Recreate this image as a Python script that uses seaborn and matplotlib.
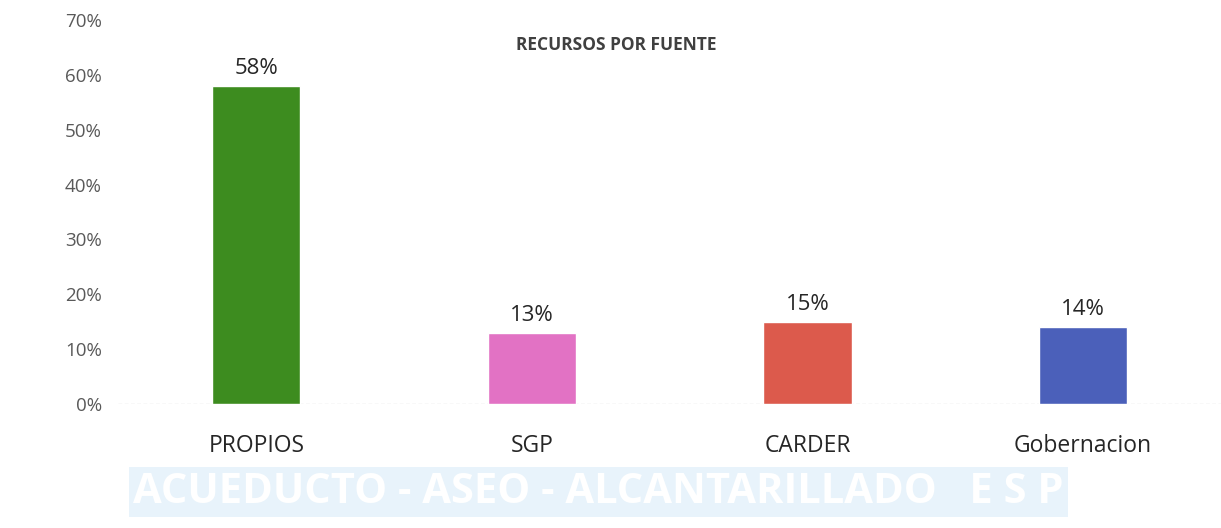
import matplotlib.pyplot as plt
import seaborn as sns
import pandas as pd

fuentes = ['PROPIOS', 'SGP', 'CARDER', 'Gobernacion']
porcentajes = [0.58, 0.13, 0.15, 0.14]
etiquetas = ['58%', '13%', '15%', '14%']
colores = ['#3d8c1f', '#e272c4', '#dc5a4c', '#4b60ba']

data = pd.DataFrame({'fuente': fuentes, 'pct': porcentajes})

sns.set_style('white')
plt.rcParams['font.family'] = ['Open Sans', 'DejaVu Sans']

fig = plt.figure(figsize=(12.21, 5.28), dpi=100)

# faint band of the letterhead at the bottom
fig.text(0.49, 0.068, 'ACUEDUCTO - ASEO - ALCANTARILLADO   E S P', ha='center',
         va='center', fontsize=30, fontweight='bold', color='white', zorder=-5,
         bbox=dict(facecolor='#e8f3fb', edgecolor='none', pad=3))

ax = fig.add_axes([0.097, 0.235, 0.903, 0.727])
ax.patch.set_alpha(0)

sns.barplot(data=data, x='fuente', y='pct', hue='fuente', palette=colores,
            width=0.32, saturation=1, legend=False, ax=ax)

for cont, lab in zip(ax.containers, etiquetas):
    ax.bar_label(cont, labels=[lab], padding=5, fontsize=16, color='#262626')

ax.set_ylim(0, 0.7)
ax.set_yticks([i / 10 for i in range(8)])
ax.set_yticklabels([f'{i * 10}%' for i in range(8)])
ax.set_xlim(-0.5, 3.5)
ax.set_xlabel('')
ax.set_ylabel('')
ax.tick_params(axis='y', labelsize=13.5, labelcolor='#595959', pad=12, length=0)
ax.tick_params(axis='x', labelsize=16.5, labelcolor='#262626', pad=22, length=0)
sns.despine(ax=ax, left=True, bottom=True)
ax.axhline(0, color='#c8c8c8', lw=0.9, ls=(0, (3, 2)), zorder=0)

fig.text(0.505, 0.915, 'RECURSOS POR FUENTE', ha='center', va='center',
         fontsize=12.5, fontweight='bold', color='#404040')

fig.savefig('out.png', dpi=100)
